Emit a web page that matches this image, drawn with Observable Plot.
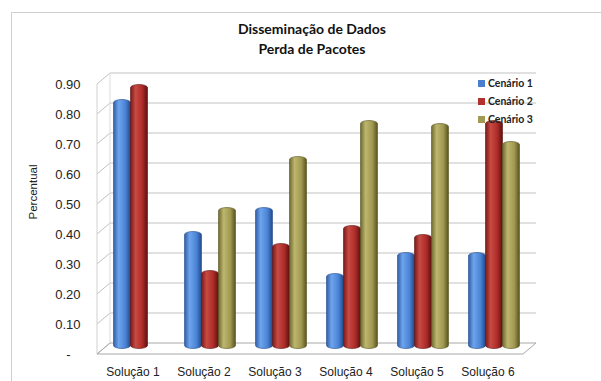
<!DOCTYPE html>
<html>
<head>
<meta charset="utf-8">
<script src="https://cdn.jsdelivr.net/npm/d3@7"></script>
<script src="https://cdn.jsdelivr.net/npm/@observablehq/plot@0.6"></script>
<style>
  html, body { margin: 0; padding: 0; background: #fff; }
  #chart { position: relative; width: 601px; height: 381px; overflow: hidden; background: #fff; }
  #border { position: absolute; left: 11px; top: 12px; width: 620px; height: 400px; border: 1px solid #cfcfcf; box-sizing: border-box; }
  #title { position: absolute; left: 212px; width: 200px; top: 19px; text-align: center;
           font: bold 14px Lato, "Open Sans", sans-serif; line-height: 20px; color: #111; }
  #legend { position: absolute; left: 478px; top: 76px; font: bold 10.5px Lato, "Open Sans", sans-serif; color: #222; }
  #legend div { height: 18px; line-height: 14px; white-space: nowrap; }
  #legend span.sw { display: inline-block; width: 7px; height: 7px; margin-right: 3px; vertical-align: 0px; }
  svg { position: absolute; left: 0; top: 0; }
</style>
</head>
<body>
<div id="chart">
  <div id="border"></div>
</div>
<script>
// Perda de pacotes por solução e cenário
const solucoes = ["Solução 1", "Solução 2", "Solução 3", "Solução 4", "Solução 5", "Solução 6"];
const cenarios = ["Cenário 1", "Cenário 2", "Cenário 3"];
const cenario1 = [0.83, 0.39, 0.47, 0.25, 0.32, 0.32];
const cenario2 = [0.88, 0.26, 0.35, 0.41, 0.38, 0.76];
const cenario3 = [null, 0.47, 0.64, 0.76, 0.75, 0.69];
const yTicks = [0, 0.1, 0.2, 0.3, 0.4, 0.5, 0.6, 0.7, 0.8, 0.9];

const series = [cenario1, cenario2, cenario3];
const baseColors = ["#4a7fcf", "#b2302d", "#a19a52"];
const gradStops = [
  ["#2f5ea8", "#6ea4ec", "#4a84d6", "#23498a"],
  ["#7a1a18", "#c84a44", "#ac2b28", "#5c1010"],
  ["#6f6930", "#bdb66e", "#a09850", "#57521f"]
];

const W = 601, H = 381;
const mL = 97, mR = 78, mT = 84, mB = 27;
const depthX = 13, depthY = -11;          // offset of the back wall
const midX = depthX / 2, midY = depthY / 2; // bars sit halfway in depth
const band = (W - mL - mR) / solucoes.length;
const barW = 17, groupPad = (band - barW * cenarios.length) / 2;

const rows = [];
series.forEach((vals, s) => vals.forEach((v, i) => {
  if (v != null) rows.push({solucao: solucoes[i], cenario: cenarios[s], s, valor: v});
}));

// gradient definitions for the cylindrical bars
const defs = () => {
  const g = d3.create("svg:defs");
  gradStops.forEach((st, s) => {
    const lg = g.append("linearGradient").attr("id", "cil" + s)
      .attr("x1", 0).attr("x2", 1).attr("y1", 0).attr("y2", 0);
    [[0, st[0]], [0.3, st[1]], [0.7, st[2]], [1, st[3]]].forEach(([o, c]) =>
      lg.append("stop").attr("offset", o).attr("stop-color", c));
  });
  return g.node();
};

// walls and floor of the 3-D box, drawn from the y scale
const walls = (index, scales, values, dims) => {
  const y = scales.y;
  const x0 = dims.marginLeft, x1 = dims.width - dims.marginRight;
  const g = d3.create("svg:g").attr("fill", "none").attr("stroke", "#c2c2c2").attr("stroke-width", 1);
  const y0 = y(0), yTop = y(yTicks[yTicks.length - 1]);
  yTicks.forEach(t => {
    const yy = y(t);
    if (t > 0) {
      g.append("line").attr("x1", x0 + depthX).attr("x2", x1 + depthX)
        .attr("y1", yy + depthY).attr("y2", yy + depthY);
    }
    g.append("line").attr("x1", x0).attr("x2", x0 + depthX)
      .attr("y1", yy).attr("y2", yy + depthY);
  });
  g.append("line").attr("x1", x0).attr("x2", x0).attr("y1", y0).attr("y2", yTop).attr("stroke", "#d0d0d0");
  g.append("line").attr("x1", x0 + depthX).attr("x2", x0 + depthX).attr("y1", y0 + depthY).attr("y2", yTop + depthY).attr("stroke", "#dcdcdc");
  // floor
  g.append("path").attr("stroke", "#a8a8a8")
    .attr("d", `M${x0},${y0}H${x1}L${x1 + depthX},${y0 + depthY}H${x0 + depthX}Z`);
  return g.node();
};

const bars = cenarios.map((c, s) =>
  Plot.barY(rows.filter(r => r.s === s), {
    x: "solucao", y: "valor",
    fill: `url(#cil${s})`,
    stroke: gradStops[s][3], strokeWidth: 0.6,
    insetLeft: groupPad + s * barW,
    insetRight: band - groupPad - (s + 1) * barW,
    rx: barW / 2, ry: 3,
    dx: midX, dy: midY
  })
);

const plot = Plot.plot({
  width: W, height: H,
  marginLeft: mL, marginRight: mR, marginTop: mT, marginBottom: mB,
  style: {fontFamily: "'Liberation Sans', Arial, sans-serif", background: "transparent", color: "#222"},
  x: {type: "band", domain: solucoes, padding: 0, label: null},
  y: {domain: [0, 0.9], label: null},
  marks: [
    defs,
    walls,
    ...bars,
    Plot.axisY({ticks: yTicks, tickSize: 0, tickPadding: 17, fontSize: 13,
      tickFormat: d => d === 0 ? "-\u2007\u2009" : d.toFixed(2)}),
    Plot.axisX({tickSize: 0, tickPadding: 13, fontSize: 12}),
    Plot.text(["Percentual"], {frameAnchor: "left", rotate: -90, dx: -64, fontSize: 11.5, fill: "#222"})
  ]
});

const chart = document.getElementById("chart");
chart.appendChild(plot);

const title = document.createElement("div");
title.id = "title";
title.innerHTML = "Disseminação de Dados<br>Perda de Pacotes";
chart.appendChild(title);

const legend = document.createElement("div");
legend.id = "legend";
cenarios.forEach((c, s) => {
  const row = document.createElement("div");
  const sw = document.createElement("span");
  sw.className = "sw";
  sw.style.background = baseColors[s];
  row.appendChild(sw);
  row.appendChild(document.createTextNode(c));
  legend.appendChild(row);
});
chart.appendChild(legend);
</script>
</body>
</html>
